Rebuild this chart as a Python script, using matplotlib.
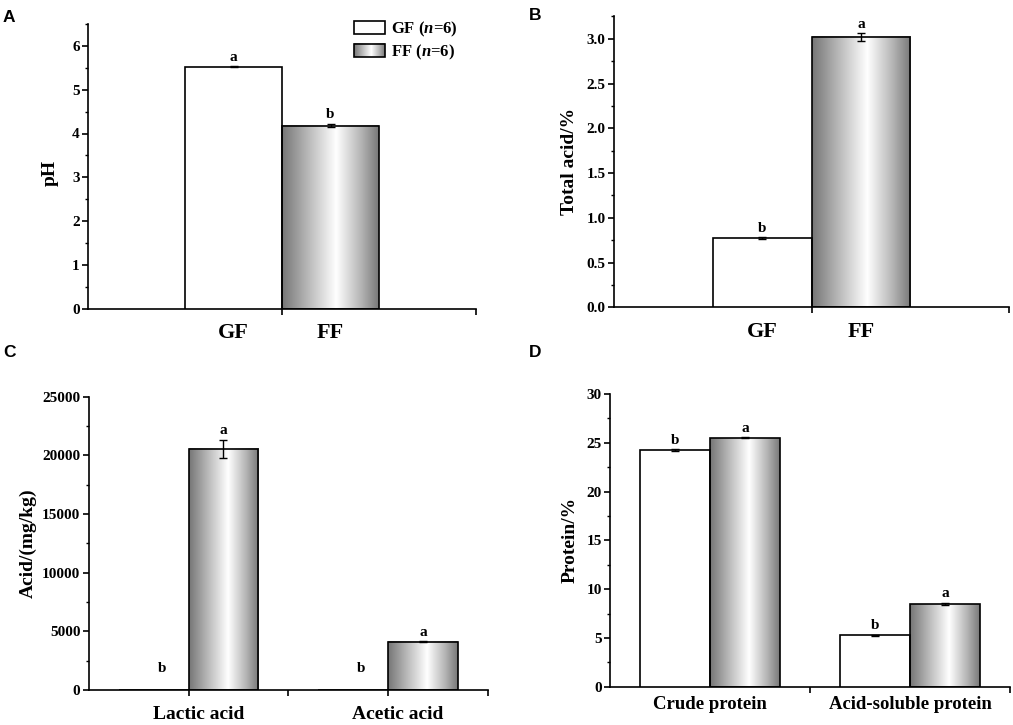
import numpy as np
import matplotlib
matplotlib.use("Agg")
import matplotlib.pyplot as plt
from matplotlib.ticker import MultipleLocator, FixedLocator, NullFormatter, FixedFormatter
from matplotlib.colors import LinearSegmentedColormap
from matplotlib.patches import Patch, Rectangle
from matplotlib.legend_handler import HandlerBase
from matplotlib.image import BboxImage
from matplotlib.transforms import Bbox, TransformedBbox

# ---- data ----
groups = ['GF', 'FF']
legend_labels = ['GF ($\\mathit{n}$=6)', 'FF ($\\mathit{n}$=6)']

ph_mean = [5.52, 4.18]
ph_err = [0.01, 0.04]
ph_letters = ['a', 'b']

total_acid_mean = [0.77, 3.02]
total_acid_err = [0.01, 0.04]
total_acid_letters = ['b', 'a']

acid_types = ['Lactic acid', 'Acetic acid']
gf_acid = [0, 0]
gf_acid_err = [0, 0]
ff_acid = [20550, 4100]
ff_acid_err = [750, 50]
gf_acid_letters = ['b', 'b']
ff_acid_letters = ['a', 'a']

protein_types = ['Crude protein', 'Acid-soluble protein']
gf_protein = [24.25, 5.25]
gf_protein_err = [0.08, 0.1]
ff_protein = [25.5, 8.5]
ff_protein_err = [0.06, 0.12]
gf_protein_letters = ['b', 'b']
ff_protein_letters = ['a', 'a']

# ---- style ----
plt.rcParams['font.family'] = ['Liberation Serif', 'DejaVu Serif']
plt.rcParams['font.weight'] = 'bold'
plt.rcParams['mathtext.fontset'] = 'custom'
plt.rcParams['mathtext.rm'] = 'Liberation Serif:bold'
plt.rcParams['mathtext.it'] = 'Liberation Serif:italic:bold'

# grey -> white -> grey shading of the FF bars
grad_cmap = LinearSegmentedColormap.from_list(
    'bar_grad', [(0.0, '#767676'), (0.25, '#b4b4b4'), (0.56, '#ffffff'),
                 (0.82, '#b4b4b4'), (1.0, '#787878')])
grad = np.linspace(0, 1, 256).reshape(1, -1)


class GradientHandler(HandlerBase):
    def create_artists(self, legend, orig_handle, xdescent, ydescent,
                       width, height, fontsize, trans):
        bb = TransformedBbox(Bbox.from_bounds(-xdescent, -ydescent, width, height), trans)
        img = BboxImage(bb, cmap=grad_cmap, norm=plt.Normalize(0, 1), interpolation='bilinear')
        img.set_data(grad)
        rect = Rectangle((-xdescent, -ydescent), width, height, facecolor='none',
                         edgecolor='black', lw=1.2, transform=trans)
        return [img, rect]


class FFPatch(Patch):
    pass


def draw_err(ax, x, h, err):
    keep = [i for i in range(len(h)) if h[i] > 0]
    if keep:
        ax.errorbar([x[i] for i in keep], [h[i] for i in keep],
                    yerr=[err[i] for i in keep], fmt='none', ecolor='black',
                    elinewidth=1, capsize=3, capthick=1, zorder=4)


def plain_bars(ax, x, h, w, err):
    ax.bar(x, h, w, color='white', edgecolor='black', lw=1.2, zorder=3)
    draw_err(ax, x, h, err)


def gradient_bars(ax, x, h, w, err):
    for xi, hi in zip(x, h):
        ax.imshow(grad, extent=[xi - w / 2, xi + w / 2, 0, hi], aspect='auto',
                  cmap=grad_cmap, vmin=0, vmax=1, interpolation='bilinear', zorder=2)
    ax.bar(x, h, w, facecolor='none', edgecolor='black', lw=1.2, zorder=3)
    draw_err(ax, x, h, err)


def letters(ax, x, h, err, labs, ymax):
    for xi, hi, ei, lab in zip(x, h, err, labs):
        y = max(hi + ei, 0.04 * ymax)
        ax.annotate(lab, (xi, y), xytext=(0, 2), textcoords='offset points',
                    ha='center', va='bottom', fontsize=11, fontweight='bold')


def style_axes(ax, ymax, ystep, ylabel, xticks, label_pos, label_x, xlab_size, xlab_pad):
    ax.set_xlim(0, 2)
    ax.set_ylim(0, ymax)
    for s in ['top', 'right']:
        ax.spines[s].set_visible(False)
    for s in ['left', 'bottom']:
        ax.spines[s].set_linewidth(1.2)
    ax.yaxis.set_major_locator(MultipleLocator(ystep))
    ax.yaxis.set_minor_locator(MultipleLocator(ystep / 2))
    ax.xaxis.remove_overlapping_locs = False
    ax.xaxis.set_major_locator(FixedLocator(xticks))
    ax.xaxis.set_major_formatter(NullFormatter())
    ax.xaxis.set_minor_locator(FixedLocator(label_pos))
    ax.xaxis.set_minor_formatter(FixedFormatter(label_x))
    ax.tick_params(axis='y', which='major', length=4, width=1.2, labelsize=11, pad=2)
    ax.tick_params(axis='y', which='minor', length=2.5, width=1)
    ax.tick_params(axis='x', which='major', length=4, width=1.2)
    ax.tick_params(axis='x', which='minor', length=0, labelsize=xlab_size, pad=xlab_pad)
    ax.set_ylabel(ylabel, fontsize=14, fontweight='bold')


fig = plt.figure(figsize=(10.13, 7.25), dpi=100)
W, H = 1013, 725


def add_axes(l, r, t, b):
    return fig.add_axes([l / W, 1 - b / H, (r - l) / W, (b - t) / H])


# A: pH
axA = add_axes(88, 476, 24, 308.7)
xa = [0.75, 1.25]
plain_bars(axA, xa[:1], ph_mean[:1], 0.5, ph_err[:1])
gradient_bars(axA, xa[1:], ph_mean[1:], 0.5, ph_err[1:])
letters(axA, xa, ph_mean, ph_err, ph_letters, 6.5)
style_axes(axA, 6.5, 1, 'pH', [1, 2], xa, groups, 16, 10.5)
axA.yaxis.set_label_coords(-0.075, 0.477)
axA.legend([Patch(facecolor='white', edgecolor='black', lw=1.2), FFPatch()],
           legend_labels, handler_map={FFPatch: GradientHandler()},
           loc='upper left', bbox_to_anchor=(0.686, 1.016), frameon=False,
           fontsize=12, borderpad=0, borderaxespad=0, handlelength=1.86,
           handleheight=0.85, handletextpad=0.35, labelspacing=0.25)

# B: total acid
axB = add_axes(614, 1009, 16.4, 307.3)
plain_bars(axB, xa[:1], total_acid_mean[:1], 0.5, total_acid_err[:1])
gradient_bars(axB, xa[1:], total_acid_mean[1:], 0.5, total_acid_err[1:])
letters(axB, xa, total_acid_mean, total_acid_err, total_acid_letters, 3.25)
style_axes(axB, 3.25, 0.5, 'Total acid/%', [1, 2], xa, groups, 16, 10.5)
axB.yaxis.set_major_formatter(plt.FuncFormatter(lambda v, p: f'{v:.1f}'))
axB.yaxis.set_label_coords(-0.09, 0.5)

# C: organic acids
axC = add_axes(88.7, 488, 396.7, 690)
xc = np.array([0.5, 1.5])
bw = 0.35
plain_bars(axC, xc - bw / 2, gf_acid, bw, gf_acid_err)
gradient_bars(axC, xc + bw / 2, ff_acid, bw, ff_acid_err)
letters(axC, xc - bw / 2 + 0.04, gf_acid, gf_acid_err, gf_acid_letters, 25000)
letters(axC, xc + bw / 2, ff_acid, ff_acid_err, ff_acid_letters, 25000)
style_axes(axC, 25000, 5000, 'Acid/(mg/kg)', [0.5, 1, 1.5, 2], xc + 0.05, acid_types, 14, 11.5)
axC.yaxis.set_label_coords(-0.13, 0.5)

# D: protein
axD = add_axes(610.3, 1010, 394, 686.7)
plain_bars(axD, xc - bw / 2, gf_protein, bw, gf_protein_err)
gradient_bars(axD, xc + bw / 2, ff_protein, bw, ff_protein_err)
letters(axD, xc - bw / 2, gf_protein, gf_protein_err, gf_protein_letters, 30)
letters(axD, xc + bw / 2, ff_protein, ff_protein_err, ff_protein_letters, 30)
style_axes(axD, 30, 5, 'Protein/%', [1, 2], xc, protein_types, 13.5, 7)
axD.yaxis.set_label_coords(-0.08, 0.5)

# panel letters
for lab, px, py in [('A', 3, 10), ('B', 529, 8), ('C', 3, 345), ('D', 529, 345)]:
    fig.text(px / W, 1 - py / H, lab, ha='left', va='top', fontsize=12.5,
             fontweight='bold', family=['Liberation Sans', 'DejaVu Sans'])

fig.savefig('out.png', dpi=100)
